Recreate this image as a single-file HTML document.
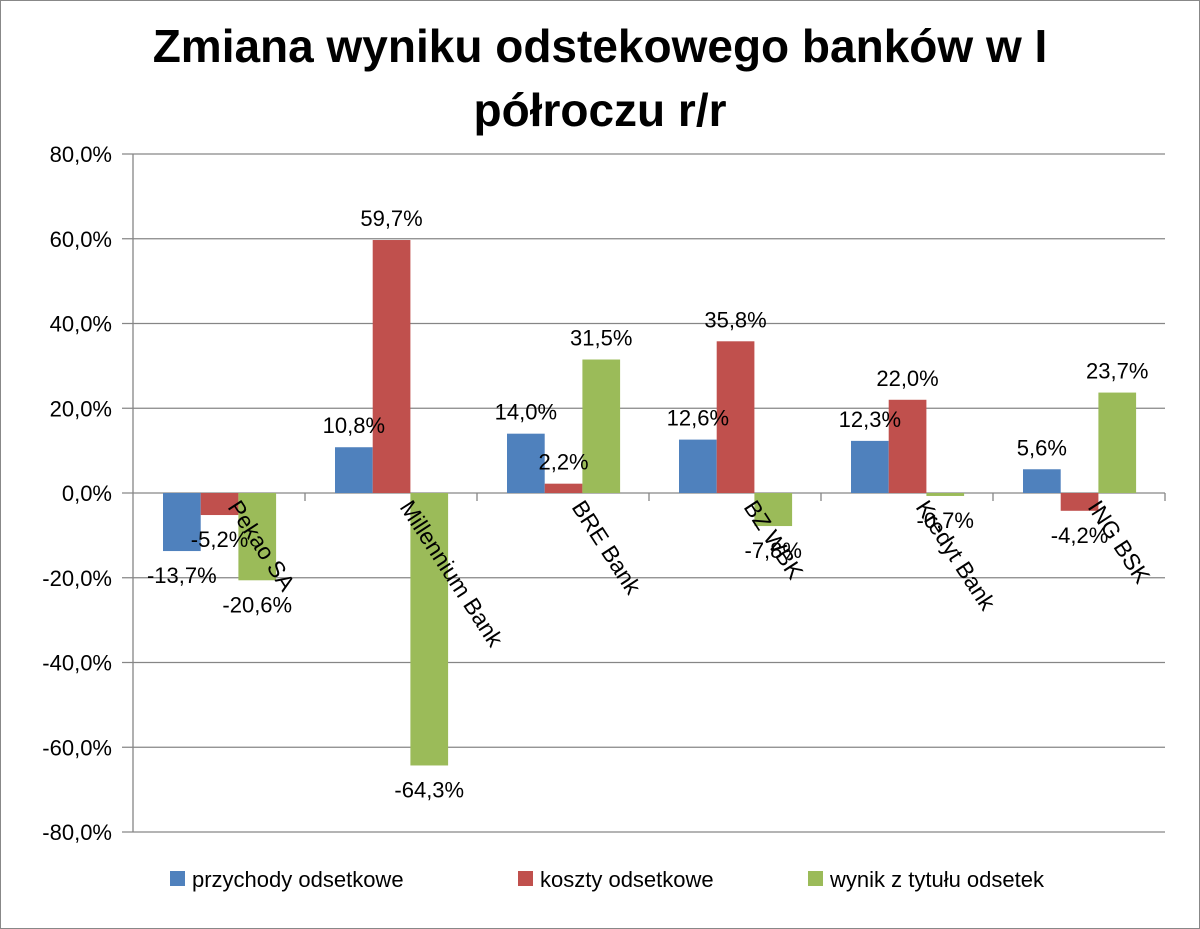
<!DOCTYPE html>
<html><head><meta charset="utf-8"><style>
html,body{margin:0;padding:0;background:#fff}
svg{display:block;font-family:"Liberation Sans",sans-serif}
</style></head><body>
<svg id="chart" width="1200" height="929" viewBox="0 0 1200 929">
<rect x="0.5" y="0.5" width="1199" height="928" fill="#fff" stroke="#888"/>
<text x="600" y="62" text-anchor="middle" font-size="46" font-weight="bold" fill="#000">Zmiana wyniku odstekowego banków w I</text>
<text x="600" y="126" text-anchor="middle" font-size="46" font-weight="bold" fill="#000">półroczu r/r</text>
<g id="grid"></g><g id="bars"></g><g id="labels"></g>
<g font-size="22" fill="#000">
<rect x="170" y="871" width="15" height="15" fill="#4f81bd"/>
<text x="192" y="887">przychody odsetkowe</text>
<rect x="518" y="871" width="15" height="15" fill="#c0504d"/>
<text x="540" y="887">koszty odsetkowe</text>
<rect x="808" y="871" width="15" height="15" fill="#9bbb59"/>
<text x="830" y="887">wynik z tytułu odsetek</text>
</g>
</svg>
<script>
const categories=["Pekao SA","Millennium Bank","BRE Bank","BZ WBK","Kredyt Bank","ING BSK"];
const przychody=[-13.7,10.8,14.0,12.6,12.3,5.6];
const koszty=[-5.2,59.7,2.2,35.8,22.0,-4.2];
const wynik=[-20.6,-64.3,31.5,-7.8,-0.7,23.7];
const yTicks=[80,60,40,20,0,-20,-40,-60,-80];
const seriesNames=["przychody","koszty","wynik"];
const colors=["#4f81bd","#c0504d","#9bbb59"];
const ns="http://www.w3.org/2000/svg";
const L=133,R=1165,Y0=493,PX=84.75/20;
const cw=(R-L)/categories.length,bw=37.7,off=30;
const y=v=>Y0-v*PX;
const x=(i,s)=>L+i*cw+off+s*bw;
function mk(t,a,p){const e=document.createElementNS(ns,t);for(const k in a)e.setAttribute(k,a[k]);p.appendChild(e);return e;}
const grid=document.getElementById('grid'),bars=document.getElementById('bars'),labels=document.getElementById('labels');
yTicks.forEach(v=>{
 const l=mk('line',{x1:122,x2:R,y1:y(v),y2:y(v),stroke:'#868686','stroke-width':1.3},grid);
 
 
 const t=mk('text',{x:112,y:y(v)+8,'text-anchor':'end','font-size':22,fill:'#000'},grid);
 t.textContent=v.toFixed(1).replace('.',',')+'%';
 
 
});
const ax=mk('line',{x1:L,x2:L,y1:y(80),y2:y(-80),stroke:'#868686','stroke-width':1.3},grid);


for(let i=1;i<=categories.length;i++){
 const tk=mk('line',{x1:L+i*cw,x2:L+i*cw,y1:Y0,y2:Y0+8,stroke:'#868686','stroke-width':1.3},grid);
 
 
}
[przychody,koszty,wynik].forEach((arr,s)=>{
 arr.forEach((v,i)=>{
  const top=Math.min(y(v),Y0),h=Math.abs(y(v)-Y0);
  const r=mk('rect',{x:x(i,s),y:top,width:bw,height:h,fill:colors[s]},bars);
  
  
  const ly=v>=0?y(v)-14:y(v)+32;
  const t=mk('text',{x:x(i,s)+bw/2,y:ly,'text-anchor':'middle','font-size':22,fill:'#000'},labels);
  t.textContent=v.toFixed(1).replace('.',',')+'%';
  
  
 });
});
categories.forEach((c,i)=>{
 const cx=L+i*cw+cw/2+8,cy=Y0+14;
 const t=mk('text',{x:cx,y:cy,'font-size':23,fill:'#000',transform:`rotate(57 ${cx} ${cy})`},labels);
 t.textContent=c;
 
 
});
</script>
</body></html>
